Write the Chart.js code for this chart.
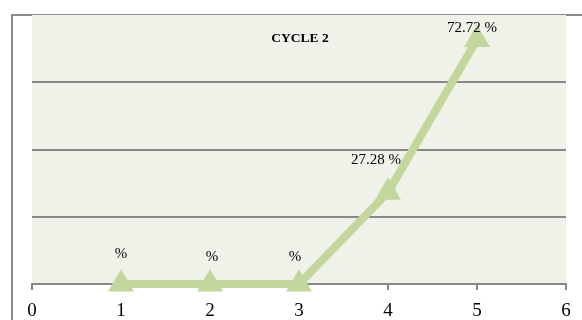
<!DOCTYPE html>
<html>
<head>
<meta charset="utf-8">
<script src="https://cdn.jsdelivr.net/npm/chart.js@4/dist/chart.umd.min.js"></script>
<style>
  html, body { margin:0; padding:0; background:#fff; overflow:hidden; }
  .frame { position:absolute; left:11px; top:14px; width:700px; height:400px;
           border-top:2px solid #8c8c8c; border-left:2px solid #8c8c8c; }
  .wrap { position:absolute; left:0; top:0; width:582px; height:320px; }
</style>
</head>
<body>
<div class="frame"></div>
<div class="wrap"><canvas id="c"></canvas></div>
<script>
/* Data */
var CYCLES      = [1, 2, 3, 4, 5];
var PERCENTS    = [0, 0, 0, 27.28, 72.72];
var POINT_TEXT  = ['%', '%', '%', '27.28 %', '72.72 %'];
var X_TICKS     = [0, 1, 2, 3, 4, 5, 6];
var Y_GRID      = [20, 40, 60];

var GREEN = '#C3D69B';
var GRID  = '#888888';
var SERIF = '"Liberation Serif", "Times New Roman", serif';

/* plot background + title + point labels */
var decor = {
  id: 'decor',
  beforeDraw: function(chart) {
    var a = chart.chartArea, ctx = chart.ctx;
    ctx.save();
    ctx.fillStyle = '#EEF2E8';
    ctx.fillRect(a.left, a.top, a.right - a.left, a.bottom - a.top);
    ctx.restore();
  },
  afterDatasetsDraw: function(chart) {
    var a = chart.chartArea, ctx = chart.ctx;
    ctx.save();
    ctx.fillStyle = '#000';
    ctx.font = 'bold 13.5px ' + SERIF;
    ctx.textAlign = 'center';
    ctx.textBaseline = 'middle';
    ctx.fillText('CYCLE 2', (a.left + a.right) / 2 + 1, a.top + 24);

    var offs = [[0,-30],[2,-27],[-4,-27],[-12,-32],[-5,-11]];
    ctx.font = '15px ' + SERIF;
    ctx.fillStyle = '#000';
    chart.getDatasetMeta(0).data.forEach(function(p, i) {
      ctx.fillText(POINT_TEXT[i], p.x + offs[i][0], p.y + offs[i][1]);
    });
    ctx.restore();
  }
};

new Chart(document.getElementById('c'), {
  type: 'line',
  data: {
    datasets: [{
      data: CYCLES.map(function(x, i){ return { x: x, y: PERCENTS[i] }; }),
      borderColor: GREEN, backgroundColor: GREEN,
      borderWidth: 8, tension: 0, fill: false,
      pointStyle: 'triangle', pointRadius: 15, pointHoverRadius: 15,
      pointBorderWidth: 0, clip: false,
    }]
  },
  options: {
    responsive: true, maintainAspectRatio: false, animation: false,
    layout: { padding: { left: 32, right: 16, top: 15, bottom: 0 } },
    plugins: { legend: { display: false }, tooltip: { enabled: false } },
    scales: {
      x: {
        type: 'linear', min: 0, max: 6,
        afterBuildTicks: function(s) { s.ticks = X_TICKS.map(function(v){ return { value: v }; }); },
        afterFit: function(s) { s.height = 36; },
        grid: { drawOnChartArea: false, drawTicks: true, tickLength: 6, color: GRID, lineWidth: 2 },
        border: { display: true, color: GRID, width: 2 },
        ticks: { color: '#000', font: { family: SERIF, size: 19 }, padding: 10, maxRotation: 0 },
      },
      y: {
        min: 0, max: 80,
        afterBuildTicks: function(s) { s.ticks = Y_GRID.map(function(v){ return { value: v }; }); },
        afterFit: function(s) { s.width = 0; },
        ticks: { display: false },
        border: { display: false },
        grid: { drawTicks: false, tickLength: 0, color: GRID, lineWidth: 2 },
      },
    },
  },
  plugins: [decor],
});
</script>
</body>
</html>
